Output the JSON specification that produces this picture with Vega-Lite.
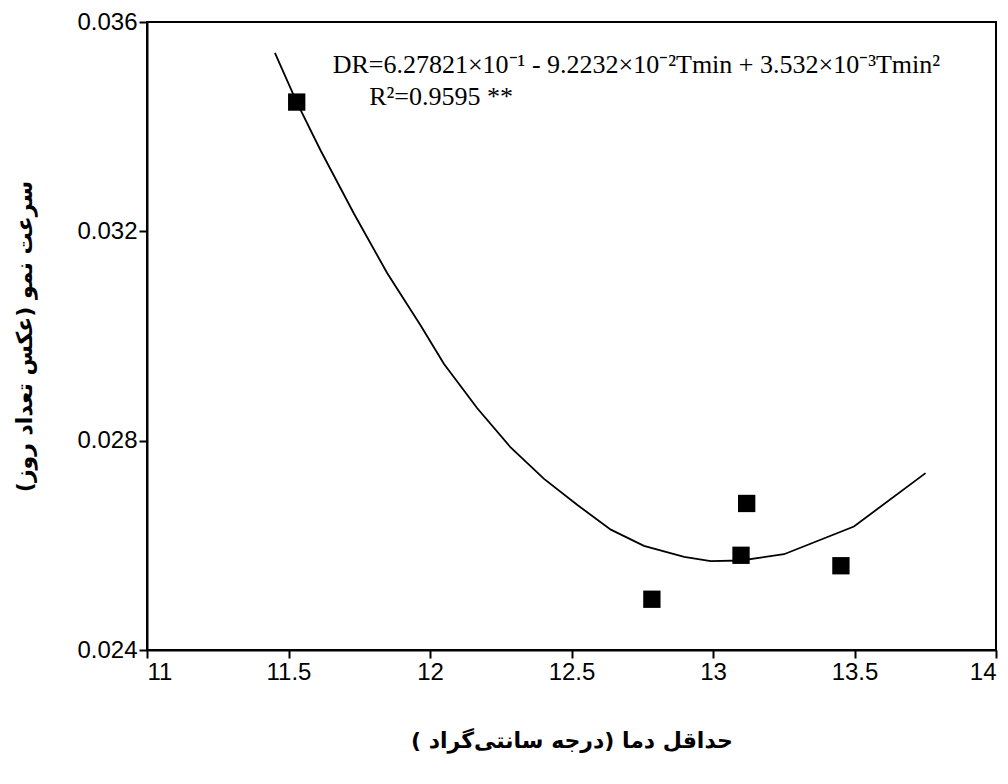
{
  "$schema": "https://vega.github.io/schema/vega-lite/v6.json",
  "width": 849,
  "height": 628,
  "autosize": {"type": "none"},
  "padding": {"left": 147, "top": 22, "right": 12, "bottom": 134},
  "background": "white",
  "config": {
    "view": {"stroke": "black", "strokeWidth": 2},
    "axis": {
      "domainColor": "black",
      "domainWidth": 2,
      "tickColor": "black",
      "tickWidth": 2,
      "tickSize": 8,
      "labelColor": "black",
      "labelFont": "Liberation Sans",
      "labelFontSize": 24,
      "grid": false,
      "titleColor": "black",
      "titleFont": "DejaVu Sans",
      "titleFontWeight": "bold",
      "titleFontSize": 22
    }
  },
  "datasets": {
    "curve": [
      {"t": 11.452, "dr": 0.03541},
      {"t": 11.529, "dr": 0.03447},
      {"t": 11.614, "dr": 0.03354},
      {"t": 11.731, "dr": 0.03234},
      {"t": 11.849, "dr": 0.03120},
      {"t": 11.967, "dr": 0.03020},
      {"t": 12.049, "dr": 0.02947},
      {"t": 12.167, "dr": 0.02862},
      {"t": 12.285, "dr": 0.02787},
      {"t": 12.403, "dr": 0.02727},
      {"t": 12.521, "dr": 0.02677},
      {"t": 12.639, "dr": 0.02630},
      {"t": 12.756, "dr": 0.02599},
      {"t": 12.898, "dr": 0.02578},
      {"t": 12.992, "dr": 0.02570},
      {"t": 13.098, "dr": 0.02571},
      {"t": 13.251, "dr": 0.02583},
      {"t": 13.498, "dr": 0.02636},
      {"t": 13.751, "dr": 0.02738}
    ],
    "points": [
      {"t": 11.529, "dr": 0.03447},
      {"t": 12.784, "dr": 0.02497},
      {"t": 13.099, "dr": 0.02581},
      {"t": 13.119, "dr": 0.02680},
      {"t": 13.452, "dr": 0.02561}
    ],
    "labels": [
      {"t": 11.656, "dr": 0.03518, "label": "DR=6.27821×10⁻¹ - 9.2232×10⁻²Tmin + 3.532×10⁻³Tmin²"},
      {"t": 11.785, "dr": 0.03457, "label": "R²=0.9595 **"}
    ]
  },
  "encoding": {
    "x": {
      "field": "t",
      "type": "quantitative",
      "scale": {"domain": [11, 14], "nice": false, "zero": false},
      "axis": {
        "values": [11, 11.5, 12, 12.5, 13, 13.5, 14],
        "format": "~g",
        "title": "حداقل دما (درجه  سانتی‌گراد )",
        "titlePadding": 46,
        "labelPadding": 2
      }
    },
    "y": {
      "field": "dr",
      "type": "quantitative",
      "scale": {"domain": [0.024, 0.036], "nice": false, "zero": false},
      "axis": {
        "values": [0.024, 0.028, 0.032, 0.036],
        "format": ".3f",
        "title": "سرعت نمو (عکس تعداد روز)",
        "titlePadding": 40,
        "labelPadding": 2
      }
    }
  },
  "layer": [
    {
      "data": {"name": "curve"},
      "mark": {"type": "line", "color": "black", "strokeWidth": 1.8, "interpolate": "linear"}
    },
    {
      "data": {"name": "points"},
      "mark": {"type": "point", "shape": "square", "filled": true, "color": "black", "size": 300, "opacity": 1}
    },
    {
      "data": {"name": "labels"},
      "mark": {"type": "text", "align": "left", "baseline": "middle", "font": "Liberation Serif", "fontSize": 26, "color": "black"},
      "encoding": {"text": {"field": "label"}}
    }
  ]
}
